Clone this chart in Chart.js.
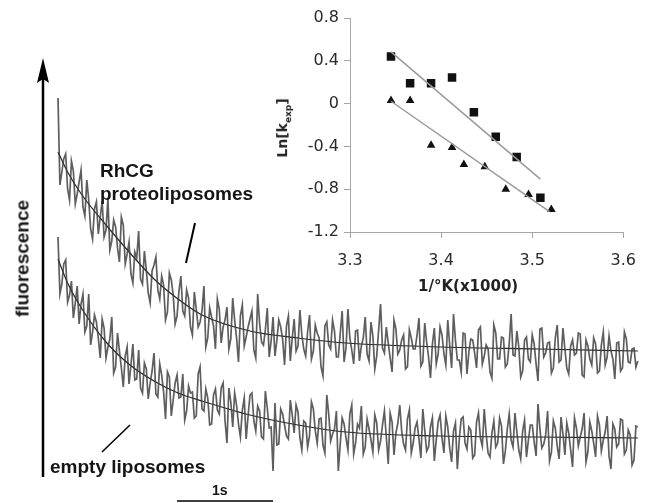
<!DOCTYPE html>
<html>
<head>
<meta charset="utf-8">
<script src="https://cdn.jsdelivr.net/npm/chart.js@4.4.1/dist/chart.umd.min.js"></script>
<style>
    html, body { margin: 0; padding: 0; background: #fff; }
    #wrap { position: relative; width: 649px; height: 503px; overflow: hidden; }
    canvas { position: absolute; }
    #traces { left: 0; top: 0; }
    #inset { left: 280px; top: 0; }
    .lbl {
        position: absolute; white-space: nowrap; color: #151515;
        font-family: 'Liberation Sans', Arial, sans-serif; font-weight: bold;
        font-size: 19px; line-height: 19px;
    }
    .ins {
        position: absolute; white-space: nowrap; color: #222;
        font-family: 'DejaVu Sans', sans-serif; font-weight: bold;
    }
</style>
</head>
<body>
<div id="wrap">
    <canvas id="traces" width="649" height="503"></canvas>
    <canvas id="inset" width="369" height="300"></canvas>

    <div class="lbl" style="left:100px; top:161px;">RhCG</div>
    <div class="lbl" style="left:100px; top:184px;">proteoliposomes</div>
    <div class="lbl" style="left:50px; top:457px;">empty liposomes</div>
    <div class="lbl" style="left:-37px; top:249px; width:118px; text-align:center; transform:rotate(-90deg);">fluorescence</div>
    <div class="lbl" style="left:212px; top:483px; font-size:14px; line-height:14px;">1s</div>

    <div class="ins" style="left:418px; top:279px; font-size:15px; line-height:15px;">1/°K(x1000)</div>
    <div class="ins" style="left:255px; top:118px; width:60px; text-align:center; font-size:14px; line-height:14px; transform:rotate(-90deg);">Ln[k<sub style="font-size:9px;">exp</sub>]</div>
</div>

<script>
// ============= DADOS – traços de fluorescência (u.a.) =============
const SAMPLE_STEP = 0.02; // s entre amostras

const rhcgTrace = [
    379, 292, 305, 318, 323, 288, 277, 316, 306, 273, 283, 295, 307, 270, 261, 297, 277, 248, 238, 268,
    275, 243, 260, 276, 240, 247, 278, 227, 236, 257, 250, 229, 215, 260, 252, 213, 223, 235, 203, 194,
    225, 219, 246, 198, 193, 226, 207, 184, 174, 206, 212, 220, 187, 178, 201, 192, 157, 165, 204, 197,
    182, 153, 161, 186, 201, 166, 161, 187, 179, 150, 142, 185, 168, 150, 155, 166, 191, 130, 139, 169,
    160, 151, 128, 178, 168, 134, 150, 157, 170, 128, 138, 179, 157, 139, 115, 161, 172, 131, 140, 150,
    158, 166, 127, 119, 183, 154, 135, 132, 147, 169, 120, 136, 160, 121, 137, 157, 150, 138, 112, 151,
    161, 116, 139, 158, 126, 131, 167, 142, 128, 121, 145, 162, 118, 126, 152, 144, 139, 110, 101, 151,
    155, 132, 128, 157, 146, 120, 120, 144, 166, 115, 129, 168, 139, 127, 113, 146, 147, 116, 131, 139,
    160, 123, 116, 155, 141, 108, 121, 147, 173, 129, 124, 150, 134, 119, 105, 157, 148, 123, 127, 137,
    142, 108, 110, 147, 139, 128, 128, 142, 159, 111, 115, 154, 135, 120, 99, 133, 149, 113, 123, 150,
    142, 123, 112, 157, 132, 109, 163, 137, 117, 117, 105, 144, 143, 103, 125, 138, 137, 124, 109, 147,
    150, 113, 121, 132, 128, 105, 99, 152, 144, 118, 118, 140, 139, 110, 113, 133, 163, 122, 121, 146,
    130, 100, 106, 137, 140, 118, 115, 142, 133, 113, 96, 148, 149, 120, 124, 134, 135, 104, 109, 139,
    152, 115, 117, 149, 128, 109, 103, 131, 137, 122, 124, 144, 143, 102, 100, 137, 131, 118, 112, 139,
    133, 104, 106, 132, 145, 112, 120, 141, 126, 118, 98, 134, 135, 106, 109, 145, 138, 115, 114, 128,
    129, 110, 116
];

const emptyTrace = [
    240, 183, 193, 213, 217, 175, 182, 196, 159, 174, 191, 153, 173, 183, 145, 151, 183, 132, 145, 162,
    155, 139, 119, 158, 149, 119, 130, 138, 160, 104, 110, 144, 126, 109, 90, 121, 130, 93, 112, 133,
    97, 98, 127, 89, 84, 114, 108, 78, 94, 106, 124, 83, 80, 113, 102, 85, 58, 105, 100, 61,
    77, 94, 102, 79, 80, 103, 57, 66, 91, 84, 85, 59, 61, 103, 110, 68, 66, 88, 79, 52,
    53, 82, 88, 67, 63, 89, 94, 56, 34, 89, 75, 50, 84, 72, 53, 40, 67, 79, 38, 61,
    82, 84, 56, 46, 71, 66, 40, 38, 86, 69, 49, 50, 6, 74, 32, 33, 68, 63, 52, 41,
    38, 77, 62, 44, 72, 65, 39, 27, 56, 54, 30, 41, 75, 68, 46, 34, 58, 59, 32, 24,
    82, 63, 36, 43, 48, 66, 6, 33, 59, 53, 39, 27, 63, 72, 23, 34, 53, 49, 71, 23,
    30, 58, 48, 37, 25, 62, 54, 27, 36, 52, 66, 40, 13, 64, 55, 22, 44, 54, 72, 46,
    33, 27, 58, 67, 24, 34, 49, 55, 38, 19, 68, 47, 26, 30, 50, 59, 16, 37, 55, 62,
    39, 24, 61, 50, 29, 15, 46, 54, 8, 38, 58, 60, 34, 28, 50, 47, 19, 22, 55, 64,
    39, 31, 68, 43, 24, 20, 44, 56, 30, 34, 59, 51, 13, 26, 48, 63, 37, 30, 64, 45,
    27, 18, 46, 57, 20, 37, 52, 52, 35, 21, 73, 48, 29, 33, 42, 66, 16, 25, 56, 49,
    31, 18, 60, 43, 22, 54, 44, 27, 10, 59, 49, 31, 40, 48, 64, 15, 25, 55, 46, 34,
    20, 61, 52, 26, 37, 45, 61, 21, 8, 53, 48, 30, 33, 58, 57, 23, 27, 47, 42, 12,
    17, 51, 50
];

// curvas ajustadas (exponenciais) desenhadas por cima dos traços
const fitTimes = [0, 0.1, 0.25, 0.5, 0.75, 1, 1.25, 1.5, 2, 2.5, 3, 4, 5, 6.04];
const rhcgFit  = [325, 305, 282, 252, 224, 198, 178, 162, 146, 139, 134, 130, 128, 126];
const emptyFit = [218, 194, 168, 135, 112, 96, 84, 76, 62, 52, 45, 41, 40, 39];

// linhas de indicação dos rótulos  [t0, y0, t1, y1]
const pointerRhcg  = [1.427, 254, 1.333, 214];
const pointerEmpty = [0.75, 52, 0.458, 25];

// barra de escala: 1 s
const scaleBar = [1.24, 2.24];

// ============= DADOS – inserto Arrhenius =============
const squaresX   = [3.345, 3.366, 3.389, 3.412, 3.436, 3.460, 3.483, 3.509];
const squaresY   = [0.44, 0.19, 0.19, 0.245, -0.08, -0.31, -0.50, -0.88];
const trianglesX = [3.345, 3.366, 3.389, 3.412, 3.425, 3.448, 3.471, 3.496, 3.521];
const trianglesY = [0.03, 0.03, -0.39, -0.41, -0.57, -0.59, -0.80, -0.85, -0.99];
const squaresFit   = [[3.345, 0.484], [3.509, -0.706]];
const trianglesFit = [[3.345, 0.022], [3.519, -1.01]];
const xTicksInset = [3.3, 3.4, 3.5, 3.6];
const yTicksInset = [0.8, 0.4, 0, -0.4, -0.8, -1.2];

document.addEventListener('DOMContentLoaded', () => {

    const CORES = {
        traco:  'rgba(58, 58, 58, 0.82)',
        ajuste: '#262626',
        preto:  '#111111',
        eixo:   '#a6a6a6',
        texto:  '#2a2a2a'
    };

    const pts = (xs, ys) => xs.map((x, i) => ({ x, y: ys[i] }));
    const tempos = rhcgTrace.map((_, i) => +(i * SAMPLE_STEP).toFixed(2));
    const linha = p => [{ x: p[0], y: p[1] }, { x: p[2], y: p[3] }];

    // ============= GRÁFICO 1 – Traços =============
    const eixoSeta = {
        id: 'eixoSeta',
        afterDraw(chart) {
            const { ctx, scales: { x, y } } = chart;
            const ax = x.getPixelForValue(x.min);
            const y0 = y.getPixelForValue(y.min);
            const yTop = y.getPixelForValue(y.max);
            ctx.save();
            ctx.strokeStyle = '#000';
            ctx.fillStyle = '#000';
            ctx.lineWidth = 2.5;
            ctx.beginPath();
            ctx.moveTo(ax, y0);
            ctx.lineTo(ax, yTop + 20);
            ctx.stroke();
            ctx.beginPath();
            ctx.moveTo(ax, yTop);
            ctx.lineTo(ax - 6, yTop + 25);
            ctx.lineTo(ax, yTop + 21);
            ctx.lineTo(ax + 6, yTop + 25);
            ctx.closePath();
            ctx.fill();
            // barra 1 s
            const yb = y.getPixelForValue(-24);
            ctx.lineWidth = 1.5;
            ctx.beginPath();
            ctx.moveTo(x.getPixelForValue(scaleBar[0]), yb);
            ctx.lineTo(x.getPixelForValue(scaleBar[1]), yb);
            ctx.stroke();
            ctx.restore();
        }
    };

    new Chart(document.getElementById('traces'), {
        type: 'line',
        data: {
            datasets: [
                { data: pts(tempos, rhcgTrace), borderColor: CORES.traco, borderWidth: 1.7 },
                { data: pts(tempos, emptyTrace), borderColor: CORES.traco, borderWidth: 1.7 },
                { data: pts(fitTimes, rhcgFit), borderColor: CORES.ajuste, borderWidth: 1.2, cubicInterpolationMode: 'monotone' },
                { data: pts(fitTimes, emptyFit), borderColor: CORES.ajuste, borderWidth: 1.2, cubicInterpolationMode: 'monotone' },
                { data: linha(pointerRhcg), borderColor: '#000', borderWidth: 2 },
                { data: linha(pointerEmpty), borderColor: '#000', borderWidth: 1.5 }
            ]
        },
        options: {
            responsive: false,
            animation: false,
            events: [],
            elements: { point: { radius: 0 }, line: { tension: 0 } },
            layout: { padding: { left: 43, right: 9, top: 58, bottom: 26 } },
            plugins: { legend: { display: false }, tooltip: { enabled: false } },
            scales: {
                x: { type: 'linear', min: -0.15625, max: 6.0625, display: false },
                y: { type: 'linear', min: 0, max: 419, display: false }
            }
        },
        plugins: [eixoSeta]
    });

    // ============= GRÁFICO 2 – Inserto ln k vs 1/T =============
    new Chart(document.getElementById('inset'), {
        type: 'scatter',
        data: {
            datasets: [
                {
                    type: 'line',
                    data: squaresFit.map(([x, y]) => ({ x, y })),
                    borderColor: '#9a9a9a', borderWidth: 1.5, pointRadius: 0
                },
                {
                    type: 'line',
                    data: trianglesFit.map(([x, y]) => ({ x, y })),
                    borderColor: '#9a9a9a', borderWidth: 1.5, pointRadius: 0
                },
                {
                    data: pts(squaresX, squaresY),
                    pointStyle: 'rect', pointRadius: 6,
                    backgroundColor: CORES.preto, borderColor: CORES.preto, borderWidth: 0
                },
                {
                    data: pts(trianglesX, trianglesY),
                    pointStyle: 'triangle', pointRadius: 5,
                    backgroundColor: CORES.preto, borderColor: CORES.preto, borderWidth: 0
                }
            ]
        },
        options: {
            responsive: false,
            animation: false,
            events: [],
            layout: { padding: { left: 0, right: 21, top: 18, bottom: 0 } },
            plugins: { legend: { display: false }, tooltip: { enabled: false } },
            scales: {
                x: {
                    type: 'linear', min: 3.3, max: 3.6,
                    afterFit: s => { s.height = 68; },
                    afterBuildTicks: s => { s.ticks = xTicksInset.map(v => ({ value: v })); },
                    border: { color: CORES.eixo, width: 1 },
                    grid: { drawOnChartArea: false, color: CORES.eixo, tickLength: 6 },
                    ticks: {
                        padding: 13, color: CORES.texto,
                        font: { family: "'DejaVu Sans', sans-serif", size: 16 },
                        callback: v => v.toFixed(1)
                    }
                },
                y: {
                    type: 'linear', min: -1.2, max: 0.8,
                    afterFit: s => { s.width = 70; },
                    afterBuildTicks: s => { s.ticks = yTicksInset.map(v => ({ value: v })); },
                    border: { color: CORES.eixo, width: 1 },
                    grid: { drawOnChartArea: false, color: CORES.eixo, tickLength: 6 },
                    ticks: {
                        padding: 5, color: CORES.texto,
                        font: { family: "'DejaVu Sans', sans-serif", size: 16 },
                        callback: v => (Math.abs(v) < 1e-9 ? '0' : v.toFixed(1))
                    }
                }
            }
        }
    });
});
</script>
</body>
</html>
